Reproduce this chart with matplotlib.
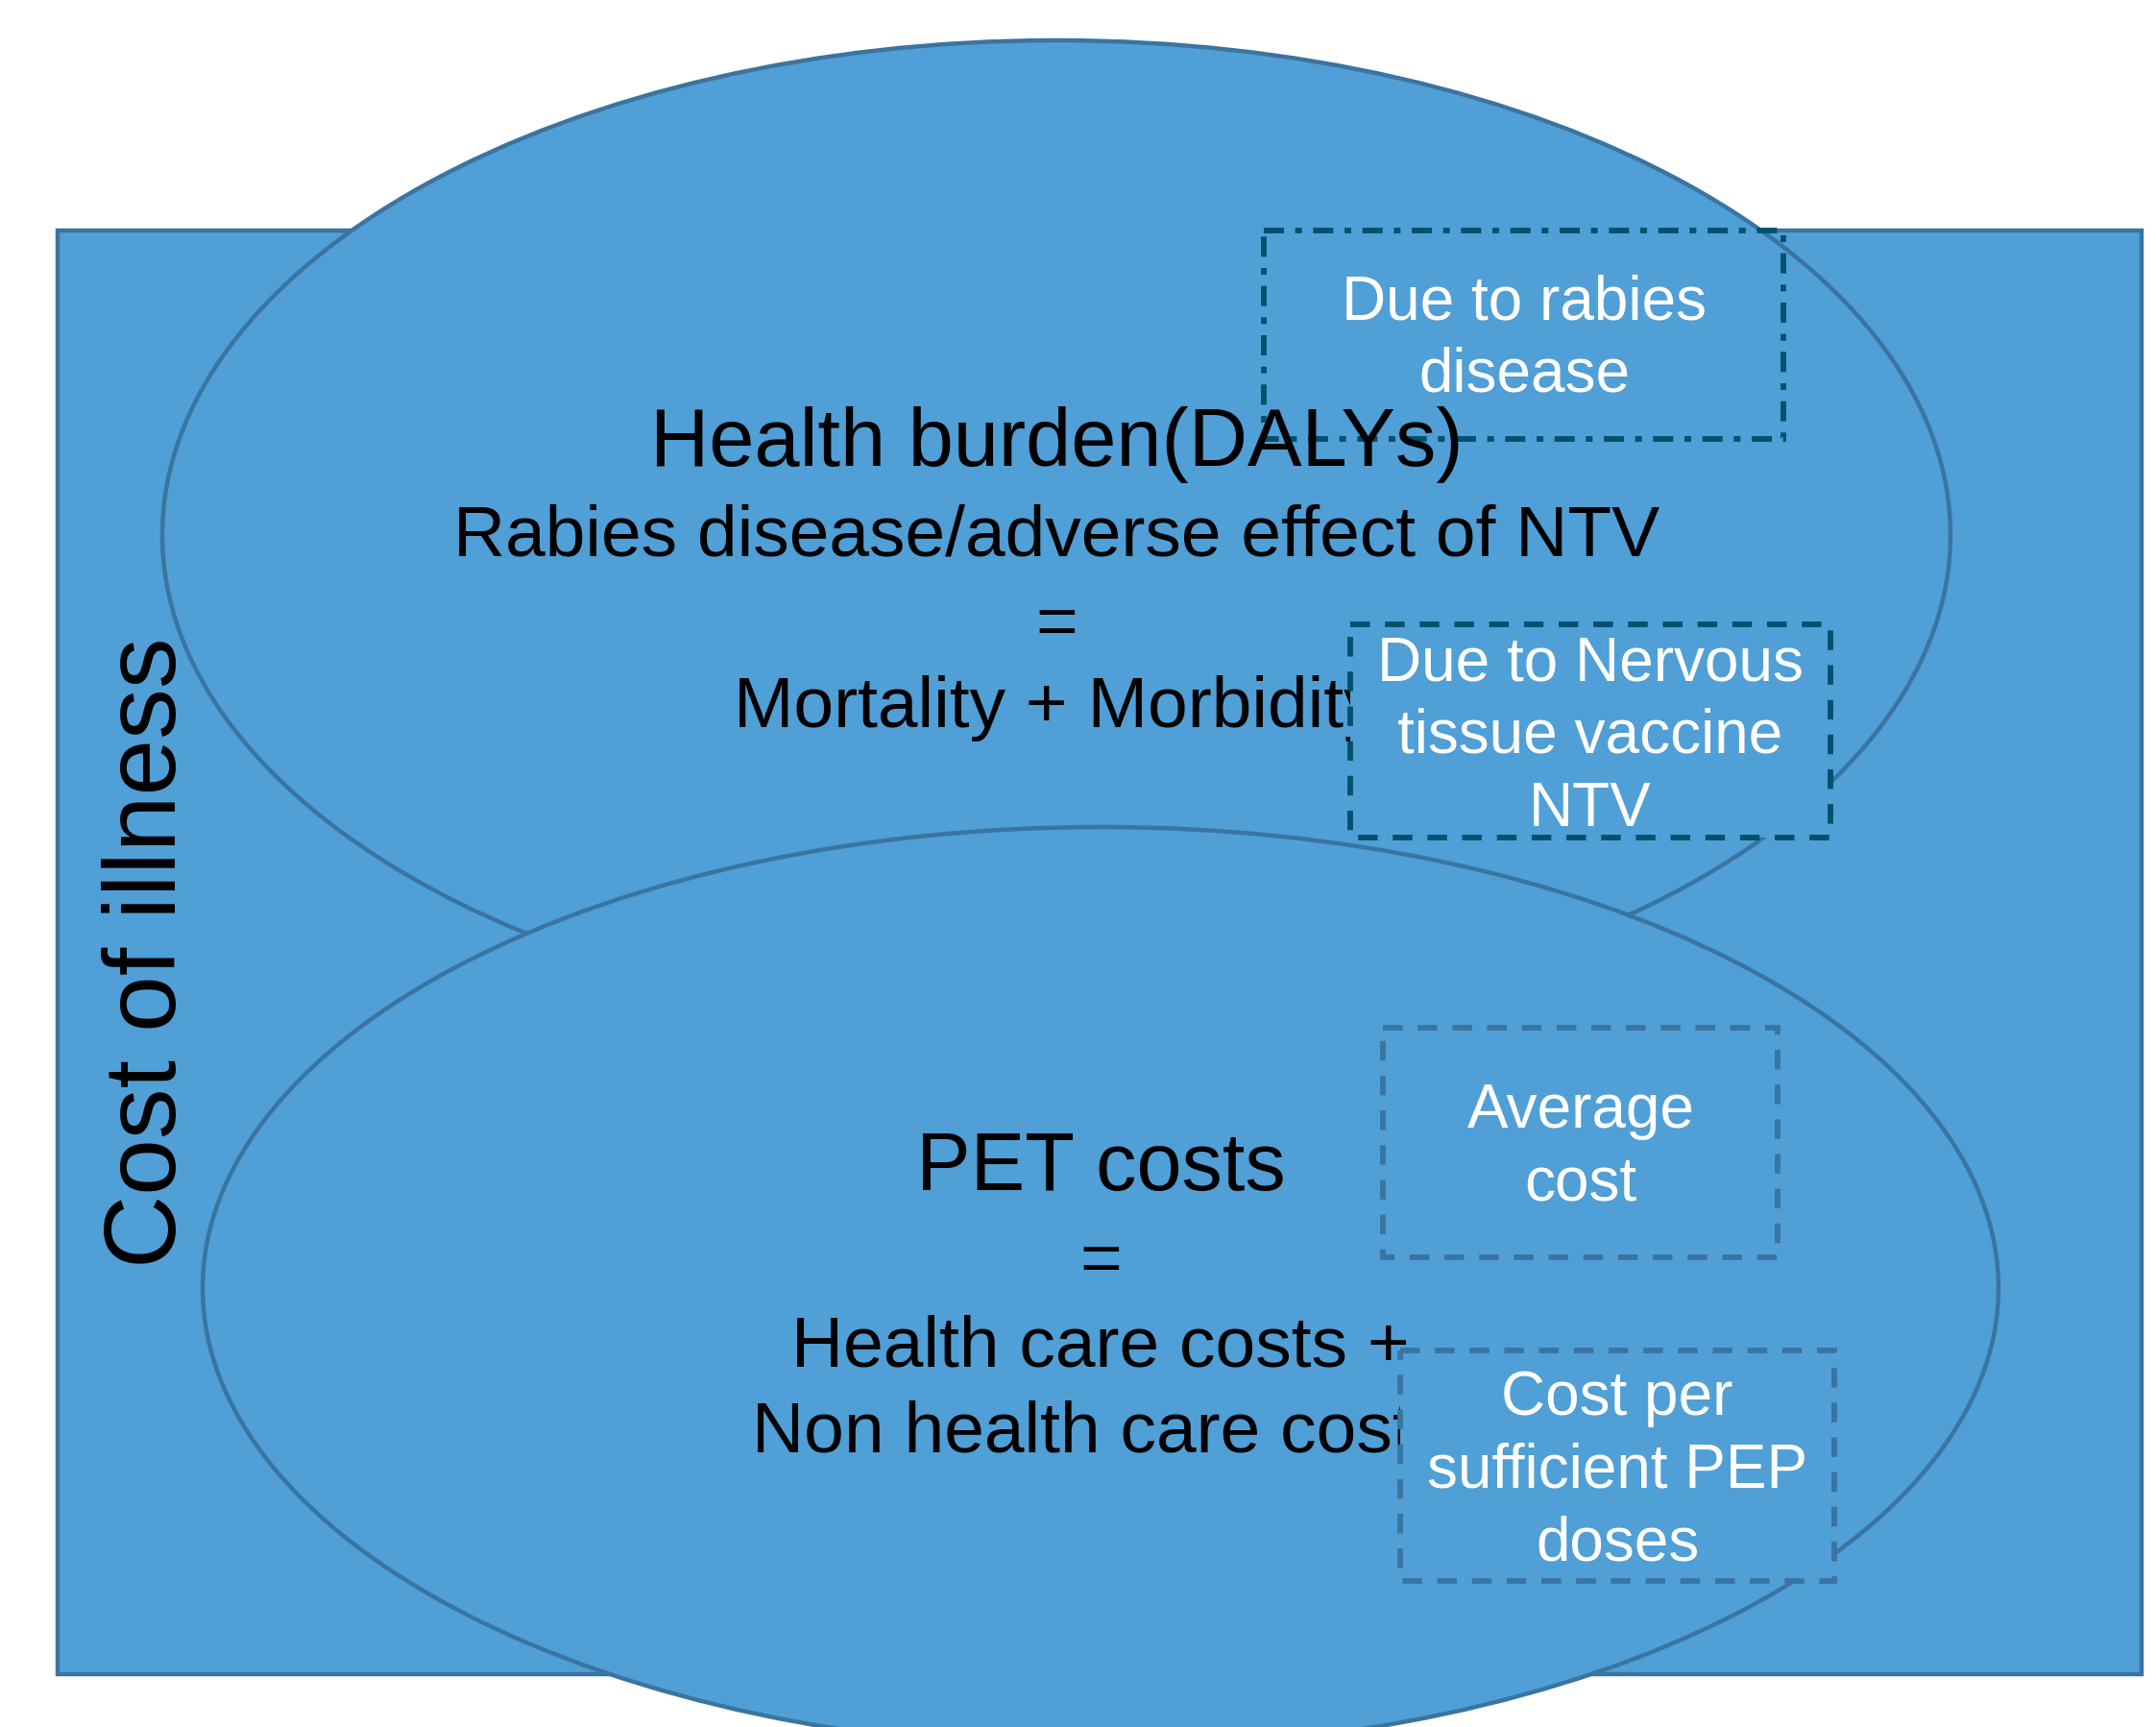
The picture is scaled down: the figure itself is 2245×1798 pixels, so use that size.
import matplotlib.pyplot as plt
from matplotlib.patches import Rectangle, Ellipse

plt.rcParams['font.family'] = ['Liberation Sans', 'DejaVu Sans']

# texts of the diagram
outer_label = 'Cost of illness'
burden_lines = ['Health burden(DALYs)', 'Rabies disease/adverse effect of NTV', '=', 'Mortality + Morbidity']
pet_lines = ['PET costs', '=', 'Health care costs +', 'Non health care costs']
box_labels = ['Due to rabies\ndisease', 'Due to Nervous\ntissue vaccine\nNTV',
              'Average\ncost', 'Cost per\nsufficient PEP\ndoses']

fill = '#509fd6'
edge = '#3a74a0'
dark = '#00506e'

W, H = 2245, 1799
fig = plt.figure(figsize=(W / 100, H / 100), dpi=100)
ax = fig.add_axes([0, 0, 1, 1])
ax.set_xlim(0, W)
ax.set_ylim(H, 0)
ax.axis('off')

dash = (0, (3.5, 2.7))
box_lw = 4.2

# outer rectangle and two ellipses (pixel coords)
ax.add_patch(Rectangle((60, 241), 2170, 1503, facecolor=fill, edgecolor=edge, lw=3.2, zorder=1))
ax.add_patch(Ellipse((1100, 558), 1862, 1030, facecolor=fill, edgecolor=edge, lw=3.2, zorder=2))

# upper dash-dot box (no fill)
ax.add_patch(Rectangle((1316, 241), 541, 217, facecolor='none', edgecolor=dark, lw=box_lw,
                       linestyle=(0, (3.6, 2.0, 1.2, 2.0)), zorder=3))
ax.text(1587, 353, box_labels[0], color='white', fontsize=46, ha='center', va='center',
        linespacing=1.33, zorder=4)

# burden text
y_burden = [463, 559, 652, 738]
size_burden = [61, 54, 54, 54]
for txt, y, s in zip(burden_lines, y_burden, size_burden):
    ax.text(1100, y, txt, fontsize=s, ha='center', va='center', color='black', zorder=3.5)

ax.add_patch(Rectangle((1406, 651), 500, 222, facecolor=fill, edgecolor=dark, lw=box_lw,
                       linestyle=dash, zorder=4))
ax.text(1656, 767, box_labels[1], color='white', fontsize=46, ha='center', va='center',
        linespacing=1.33, zorder=5)

# lower ellipse
ax.add_patch(Ellipse((1146, 1342), 1870, 960, facecolor=fill, edgecolor=edge, lw=3.2, zorder=6))

y_pet = [1217, 1315, 1403, 1492]
size_pet = [61, 54, 54, 54]
for txt, y, s in zip(pet_lines, y_pet, size_pet):
    ax.text(1146, y, txt, fontsize=s, ha='center', va='center', color='black', zorder=7)

ax.add_patch(Rectangle((1440, 1071), 411, 239, facecolor=fill, edgecolor=edge, lw=box_lw,
                       linestyle=dash, zorder=8))
ax.text(1646, 1195, box_labels[2], color='white', fontsize=46, ha='center', va='center',
        linespacing=1.33, zorder=9)

ax.add_patch(Rectangle((1458, 1407), 452, 240, facecolor=fill, edgecolor=edge, lw=box_lw,
                       linestyle=dash, zorder=8))
ax.text(1684, 1532, box_labels[3], color='white', fontsize=46, ha='center', va='center',
        linespacing=1.33, zorder=9)

# side label
ax.text(156, 992, outer_label, fontsize=76, rotation=90, ha='center', va='center', color='black', zorder=10)

fig.savefig('out.png', dpi=100)
